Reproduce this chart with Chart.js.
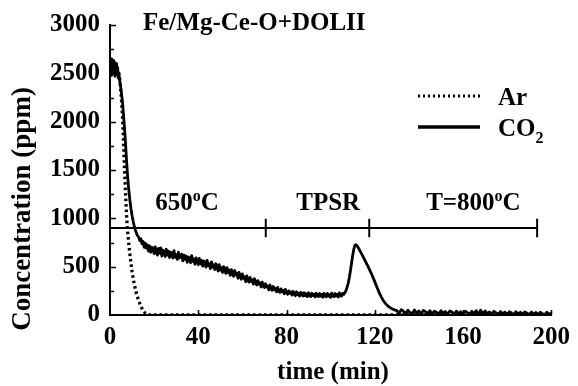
<!DOCTYPE html>
<html>
<head>
<meta charset="utf-8">
<title>Fe/Mg-Ce-O+DOLII</title>
<script src="https://cdn.jsdelivr.net/npm/chart.js@4.4.1/dist/chart.umd.min.js"></script>
<style>
  html, body { margin: 0; padding: 0; background: #fff; }
  canvas { display: block; }
</style>
</head>
<body>
<canvas id="tpsr" width="578" height="386"></canvas>
<script>
// CO2 outlet signal (ppm) vs time (min)
// quarter-minute samples before the switch, half-minute through the 650 C hold and TPSR peak, then one per minute
var co2Minutes = [
  0, 0.25, 0.5, 0.75, 1, 1.25, 1.5, 1.75, 2, 2.25, 2.5, 2.75, 3, 3.25, 3.5, 3.75, 4,
  4.5, 5, 5.5, 6, 6.5, 7, 7.5, 8, 8.5, 9, 9.5, 10, 10.5, 11, 11.5, 12, 12.5,
  13, 13.5, 14, 14.5, 15, 15.5, 16, 16.5, 17, 17.5,
  18, 18.5, 19, 19.5, 20, 20.5, 21, 21.5, 22, 22.5,
  23, 23.5, 24, 24.5, 25, 25.5, 26, 26.5, 27, 27.5,
  28, 28.5, 29, 29.5, 30, 30.5, 31, 31.5, 32, 32.5,
  33, 33.5, 34, 34.5, 35, 35.5, 36, 36.5, 37, 37.5,
  38, 38.5, 39, 39.5, 40, 40.5, 41, 41.5, 42, 42.5,
  43, 43.5, 44, 44.5, 45, 45.5, 46, 46.5, 47, 47.5,
  48, 48.5, 49, 49.5, 50, 50.5, 51, 51.5, 52, 52.5,
  53, 53.5, 54, 54.5, 55, 55.5, 56, 56.5, 57, 57.5,
  58, 58.5, 59, 59.5, 60, 60.5, 61, 61.5, 62, 62.5,
  63, 63.5, 64, 64.5, 65, 65.5, 66, 66.5, 67, 67.5,
  68, 68.5, 69, 69.5, 70, 70.5, 71, 71.5, 72, 72.5,
  73, 73.5, 74, 74.5, 75, 75.5, 76, 76.5, 77, 77.5,
  78, 78.5, 79, 79.5, 80, 80.5, 81, 81.5, 82, 82.5,
  83, 83.5, 84, 84.5, 85, 85.5, 86, 86.5, 87, 87.5,
  88, 88.5, 89, 89.5, 90, 90.5, 91, 91.5, 92, 92.5,
  93, 93.5, 94, 94.5, 95, 95.5, 96, 96.5, 97, 97.5,
  98, 98.5, 99, 99.5, 100, 100.5, 101, 101.5, 102, 102.5,
  103, 103.5, 104, 104.5, 105, 105.5, 106, 106.5, 107, 107.5,
  108, 108.5, 109, 109.5, 110, 110.5, 111, 111.5, 112, 112.5,
  113, 113.5, 114, 114.5,
  115, 116, 117, 118, 119, 120, 121, 122, 123, 124, 125, 126, 127, 128, 129, 130,
  131, 132, 133, 134, 135, 136, 137, 138, 139, 140,
  141, 142, 143, 144, 145, 146, 147, 148, 149, 150,
  151, 152, 153, 154, 155, 156, 157, 158, 159, 160,
  161, 162, 163, 164, 165, 166, 167, 168, 169, 170,
  171, 172, 173, 174, 175, 176, 177, 178, 179, 180,
  181, 182, 183, 184, 185, 186, 187, 188, 189, 190,
  191, 192, 193, 194, 195, 196, 197, 198, 199, 200
];
var co2Ppm = [
  2520, 2620, 2480, 2650, 2560, 2500, 2630, 2530, 2610, 2470, 2590, 2540, 2600, 2490, 2560, 2450, 2500,
  2410, 2330, 2240, 2110, 1960, 1790, 1600, 1430, 1300, 1190, 1100, 1030, 970, 920, 880, 845, 820,
  805, 770, 790, 735, 760, 700, 745, 690, 725, 660,
  715, 650, 700, 690, 635, 705, 650, 620, 690, 640,
  695, 610, 670, 655, 605, 680, 620, 660, 595, 650,
  640, 590, 665, 600, 625, 575, 650, 590, 615, 630,
  560, 620, 575, 610, 545, 600, 590, 540, 615, 555,
  580, 525, 590, 560, 520, 585, 530, 565, 505, 560,
  545, 495, 565, 510, 530, 480, 550, 495, 520, 470,
  530, 505, 455, 520, 465, 490, 440, 500, 475, 430,
  490, 440, 465, 410, 470, 430, 400, 460, 415, 435,
  380, 440, 400, 370, 425, 380, 395, 345, 405, 370,
  340, 390, 345, 365, 320, 375, 340, 310, 355, 320,
  335, 290, 340, 305, 285, 325, 290, 300, 260, 310,
  280, 255, 295, 260, 275, 240, 285, 250, 235, 270,
  240, 255, 220, 265, 235, 215, 250, 225, 240, 205,
  245, 220, 200, 240, 210, 225, 195, 235, 215, 195,
  230, 200, 220, 190, 230, 205, 190, 225, 200, 215,
  185, 225, 200, 190, 222, 195, 212, 183, 225, 200,
  188, 224, 195, 210, 182, 226, 198, 190, 222, 196,
  214, 186, 228, 200, 195, 225, 215, 230, 255, 290,
  330, 390, 460, 540, 615, 680, 720, 728, 715, 697,
  677, 656, 635, 613,
  590, 545, 500, 452, 400, 345, 288, 232, 185, 145, 115, 92, 76, 63, 53, 45,
  15, 55, 40, 10, 50, 25, 12, 52, 20, 42,
  8, 48, 35, 12, 45, 10, 40, 28, 5, 45,
  18, 36, 6, 42, 30, 8, 40, 14, 35, 5,
  40, 24, 8, 38, 12, 45, 2, 50, 6, 42,
  15, 32, 4, 38, 22, 6, 36, 12, 30, 3,
  34, 20, 4, 35, 10, 28, 2, 32, 18, 4,
  30, 8, 26, 0, 30, 14, 3, 28, 6, 20
];

// Ar tracer signal (ppm)
var arMinutes = [0, 3, 4, 4.5, 5, 5.5, 6, 6.5, 7, 7.5, 8, 8.5, 9, 9.5, 10, 10.5, 11, 12, 13, 14, 15, 16, 17, 18, 200];
var arPpm = [2550, 2550, 2500, 2420, 2300, 2120, 1880, 1560, 1280, 1030, 860, 740, 630, 540, 450, 380, 320, 220, 150, 90, 45, 18, 5, 0, 0];

// temperature programme bar: level, segment ends and segment names
var phaseLevel = 900;
var phaseEdges = [70.6, 117.5, 193.6];
var phaseCentres = [34.9, 98.9, 164.7];
var phaseNames = ['650^o^C', 'TPSR', 'T=800^o^C'];

var yTickValues = [0, 500, 1000, 1500, 2000, 2500, 3000];

var serif = "'Liberation Serif', 'Times New Roman', serif";
var FS = 25;
var tickHalf = 95;

function toPoints(xs, ys) {
  return xs.map(function (x, i) { return { x: x, y: ys[i] }; });
}

var phaseBar = [{ x: 0, y: phaseLevel }, { x: phaseEdges[phaseEdges.length - 1], y: phaseLevel }];
var phaseTicks = [];
phaseEdges.forEach(function (e) {
  phaseTicks.push({ x: e, y: phaseLevel - tickHalf }, { x: e, y: phaseLevel + tickHalf }, { x: e, y: null });
});

// '^x^' raises x, '_x_' lowers x
function richParts(text) {
  var out = [];
  text.split('^').forEach(function (s, i) {
    s.split('_').forEach(function (p, j) {
      if (p) out.push({ t: p, dy: i % 2 ? -1 : (j % 2 ? 1 : 0) });
    });
  });
  return out;
}

function drawRich(ctx, text, x, y, align, size) {
  var parts = richParts(text);
  var small = Math.round(size * 0.64);
  var widths = parts.map(function (p) {
    ctx.font = 'bold ' + (p.dy ? small : size) + 'px ' + serif;
    return ctx.measureText(p.t).width;
  });
  var total = widths.reduce(function (a, b) { return a + b; }, 0);
  var cx = align === 'center' ? x - total / 2 : x;
  ctx.textAlign = 'left';
  ctx.textBaseline = 'alphabetic';
  parts.forEach(function (p, i) {
    ctx.font = 'bold ' + (p.dy ? small : size) + 'px ' + serif;
    var off = p.dy < 0 ? -size * 0.36 : (p.dy > 0 ? size * 0.26 : 0);
    ctx.fillText(p.t, cx, y + off);
    cx += widths[i];
  });
}

var decorations = {
  id: 'decorations',
  afterDraw: function (chart) {
    var ctx = chart.ctx;
    var xs = chart.scales.x, ys = chart.scales.y;
    var area = chart.chartArea;
    ctx.save();
    ctx.fillStyle = '#000';
    ctx.strokeStyle = '#000';

    // inward tick marks
    ctx.lineWidth = 1.5;
    ctx.beginPath();
    for (var v = 250; v <= 3000; v += 250) {
      var py = Math.round(ys.getPixelForValue(v)) + 0.5;
      var len = v % 500 === 0 ? 6 : 4;
      ctx.moveTo(area.left, py);
      ctx.lineTo(area.left + len, py);
    }
    [40, 80, 120, 160, 200].forEach(function (t) {
      var px = Math.round(xs.getPixelForValue(t)) + 0.5;
      ctx.moveTo(px, area.bottom);
      ctx.lineTo(px, area.bottom - 5);
    });
    ctx.stroke();

    // title
    drawRich(ctx, 'Fe/Mg-Ce-O+DOLII', 143, 30, 'left', 25);

    // programme segment names
    phaseNames.forEach(function (name, i) {
      drawRich(ctx, name, xs.getPixelForValue(phaseCentres[i]), ys.getPixelForValue(1000) - 8, 'center', FS);
    });

    // legend
    ctx.lineWidth = 3;
    ctx.setLineDash([2, 3]);
    ctx.beginPath();
    ctx.moveTo(418, 96);
    ctx.lineTo(480, 96);
    ctx.stroke();
    ctx.setLineDash([]);
    ctx.lineWidth = 3.5;
    ctx.beginPath();
    ctx.moveTo(418, 127);
    ctx.lineTo(480, 127);
    ctx.stroke();
    drawRich(ctx, 'Ar', 498, 105, 'left', FS);
    drawRich(ctx, 'CO_2_', 498, 136, 'left', FS);

    // axis titles
    ctx.textAlign = 'center';
    ctx.textBaseline = 'alphabetic';
    ctx.font = 'bold ' + FS + 'px ' + serif;
    ctx.fillText('time (min)', 333, 379);
    ctx.font = 'bold 27px ' + serif;
    ctx.translate(30, 209);
    ctx.rotate(-Math.PI / 2);
    ctx.fillText('Concentration (ppm)', 0, 0);
    ctx.restore();
  }
};

var chart = new Chart(document.getElementById('tpsr'), {
  type: 'line',
  data: {
    datasets: [
      {
        label: 'Ar',
        data: toPoints(arMinutes, arPpm),
        borderColor: '#000',
        borderWidth: 3.3,
        borderDash: [2.5, 3],
        pointRadius: 0,
        tension: 0,
        order: 1
      },
      {
        label: 'CO2',
        data: toPoints(co2Minutes, co2Ppm),
        borderColor: '#000',
        borderWidth: 2.8,
        borderJoinStyle: 'round',
        pointRadius: 0,
        tension: 0,
        order: 2
      },
      {
        label: 'programme',
        data: phaseBar,
        borderColor: '#000',
        borderWidth: 2,
        pointRadius: 0,
        order: 3
      },
      {
        label: 'programme ticks',
        data: phaseTicks,
        borderColor: '#000',
        borderWidth: 2,
        pointRadius: 0,
        spanGaps: false,
        order: 3
      }
    ]
  },
  options: {
    responsive: false,
    animation: false,
    events: [],
    layout: { padding: { left: 0, top: 20, right: 21, bottom: 0 } },
    plugins: { legend: { display: false }, tooltip: { enabled: false } },
    scales: {
      x: {
        type: 'linear',
        min: 0,
        max: 200,
        afterFit: function (s) { s.height = 71; },
        ticks: {
          stepSize: 40,
          maxRotation: 0,
          padding: 8,
          color: '#000',
          font: { family: serif, size: FS, weight: 'bold' }
        },
        grid: { display: false, drawTicks: false },
        border: { color: '#000', width: 2 }
      },
      y: {
        type: 'linear',
        min: 0,
        max: 3000,
        afterFit: function (s) { s.width = 110; },
        afterBuildTicks: function (s) {
          s.ticks = yTickValues.map(function (v) { return { value: v }; });
        },
        ticks: {
          padding: 10,
          color: '#000',
          font: { family: serif, size: FS, weight: 'bold' },
          callback: function (v) { return String(v); }
        },
        grid: { display: false, drawTicks: false },
        border: { color: '#000', width: 2 }
      }
    }
  },
  plugins: [decorations]
});
</script>
</body>
</html>
